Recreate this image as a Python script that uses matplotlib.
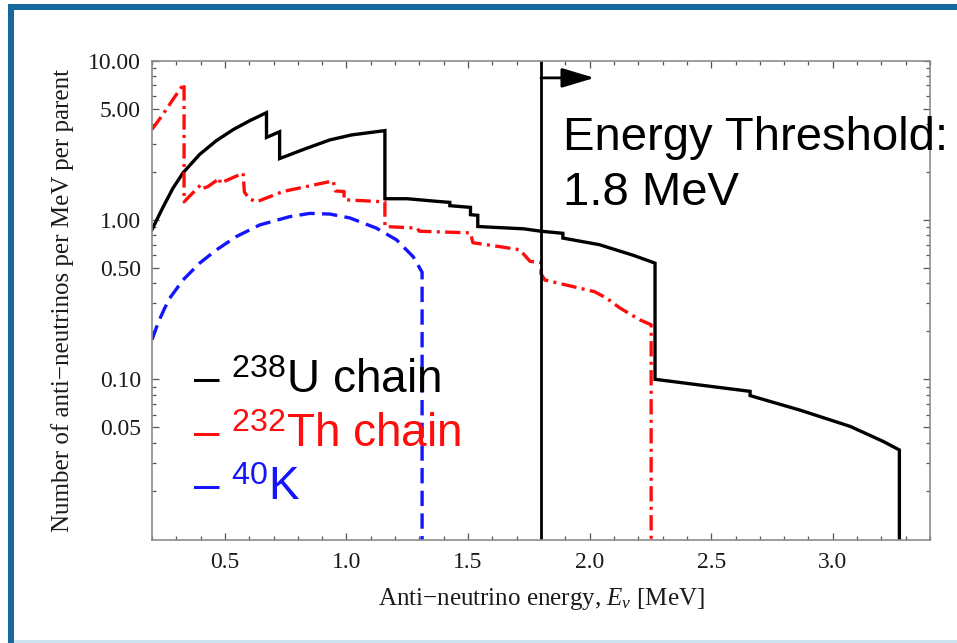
import matplotlib
matplotlib.use("Agg")
import matplotlib.pyplot as plt
from matplotlib.patches import Rectangle
from matplotlib.ticker import FixedLocator, FixedFormatter, MultipleLocator, LogLocator, NullFormatter
import numpy as np

plt.rcParams['font.family'] = ['Liberation Serif', 'DejaVu Serif']
plt.rcParams['mathtext.fontset'] = 'custom'
plt.rcParams['mathtext.rm'] = 'Liberation Sans'
plt.rcParams['mathtext.it'] = 'Liberation Serif:italic'

# geo-neutrino spectra, read per chain (energy in MeV, number per MeV per parent)
u_energy = [0.2, 0.245, 0.286, 0.328, 0.396, 0.465, 0.535, 0.602, 0.671, 0.671,
            0.725, 0.725, 0.828, 0.931, 1.021, 1.158, 1.158, 1.25, 1.37, 1.425,
            1.425, 1.51, 1.51, 1.54, 1.54, 1.73, 1.80, 1.89, 1.89, 2.04,
            2.18, 2.269, 2.269, 2.455, 2.66, 2.66, 2.866, 3.072, 3.208, 3.274, 3.274]
u_count = [0.87, 1.20, 1.58, 1.98, 2.58, 3.15, 3.70, 4.20, 4.72, 3.30,
           3.58, 2.43, 2.79, 3.18, 3.42, 3.64, 1.36, 1.36, 1.31, 1.29,
           1.23, 1.20, 1.08, 1.07, 0.91, 0.88, 0.85, 0.825, 0.77, 0.70,
           0.60, 0.536, 0.100, 0.092, 0.084, 0.079, 0.064, 0.0506, 0.0407, 0.036, 0.005]

th_energy = [0.2, 0.245, 0.286, 0.332, 0.332, 0.40, 0.41, 0.43, 0.479, 0.48,
             0.575, 0.58, 0.60, 0.63, 0.739, 0.945, 0.955, 0.99, 0.99, 1.158,
             1.158, 1.29, 1.30, 1.51, 1.52, 1.631, 1.713, 1.755, 1.80, 1.80,
             1.816, 2.02, 2.07, 2.125, 2.207, 2.253, 2.253]
th_count = [3.7, 4.6, 5.7, 7.2, 1.30, 1.66, 1.58, 1.62, 1.83, 1.70,
            1.97, 1.50, 1.36, 1.30, 1.51, 1.76, 1.52, 1.51, 1.34, 1.30,
            0.91, 0.89, 0.85, 0.83, 0.72, 0.68, 0.65, 0.55, 0.54, 0.46,
            0.42, 0.355, 0.323, 0.28, 0.236, 0.22, 0.005]

k_energy = [0.2, 0.225, 0.25, 0.273, 0.328, 0.396, 0.465, 0.547, 0.643, 0.767,
            0.849, 0.931, 1.014, 1.123, 1.206, 1.274, 1.311, 1.311]
k_count = [0.177, 0.226, 0.275, 0.323, 0.421, 0.536, 0.649, 0.787, 0.931, 1.05,
           1.10, 1.09, 1.03, 0.889, 0.75, 0.589, 0.47, 0.005]

threshold = 1.8
x_ticks = [0.5, 1.0, 1.5, 2.0, 2.5, 3.0]
x_tick_labels = ['0.5', '1.0', '1.5', '2.0', '2.5', '3.0']
y_ticks = [0.05, 0.1, 0.5, 1.0, 5.0, 10.0]
y_tick_labels = ['0.05', '0.10', '0.50', '1.00', '5.00', '10.00']

fig = plt.figure(figsize=(9.57, 6.43), dpi=100)
ax = fig.add_axes([0.1588, 0.1602, 0.8130, 0.7454])

lw = 2.4
ax.plot(u_energy, u_count, color='black', lw=lw, solid_joinstyle='miter')
ax.plot(th_energy, th_count, color='#ff0d0d', lw=lw, linestyle=(0, (4.6, 1.6, 0.9, 1.6)))
ax.plot(k_energy, k_count, color='#1414ff', lw=lw, linestyle=(0, (4.6, 2.2)))

ax.axvline(threshold, color='black', lw=2)
ax.annotate('', xy=(2.02, 7.8), xytext=(threshold, 7.8),
            arrowprops=dict(arrowstyle='-|>,head_length=1.0,head_width=0.3',
                            mutation_scale=20, lw=2, color='black',
                            shrinkA=0, shrinkB=0))

ax.set_yscale('log')
ax.set_xlim(0.2, 3.4)
ax.set_ylim(0.0098, 10)

ax.xaxis.set_major_locator(FixedLocator(x_ticks))
ax.xaxis.set_major_formatter(FixedFormatter(x_tick_labels))
ax.xaxis.set_minor_locator(MultipleLocator(0.1))
ax.yaxis.set_major_locator(FixedLocator(y_ticks))
ax.yaxis.set_major_formatter(FixedFormatter(y_tick_labels))
ax.yaxis.set_minor_locator(LogLocator(base=10, subs=np.arange(2, 10), numticks=30))
ax.yaxis.set_minor_formatter(NullFormatter())

ax.tick_params(which='both', direction='in', top=True, right=True,
               color='#555555', width=0.9, labelsize=17, labelcolor='#1a1a1a')
ax.tick_params(which='major', length=5)
ax.tick_params(which='minor', length=3)
ax.tick_params(axis='x', pad=9)
ax.tick_params(axis='y', pad=8)
for sp in ax.spines.values():
    sp.set_color('#8c8c8c')
    sp.set_linewidth(1.2)

ax.set_xlabel('Anti\u2212neutrino energy, $E_\\nu$ [MeV]', fontsize=18, color='#1a1a1a')
ax.set_ylabel('Number of anti\u2212neutrinos per MeV per parent', fontsize=18, color='#1a1a1a')
ax.xaxis.set_label_coords(0.5, -0.095)
ax.yaxis.set_label_coords(-0.1, 0.5)

# threshold note and legend, drawn in sans over the frame
sans = ['Liberation Sans', 'DejaVu Sans']
fig.text(563 / 957, 1 - 150 / 643, 'Energy Threshold:', fontsize=34, family=sans, va='baseline')
fig.text(563 / 957, 1 - 205 / 643, '1.8 MeV', fontsize=34, family=sans, va='baseline')

legend_rows = [('\u2013 $^{238}$U chain', 'black', 393),
               ('\u2013 $^{232}$Th chain', '#ff0d0d', 447),
               ('\u2013 $^{40}$K', '#1414ff', 500)]
for label, col, base in legend_rows:
    fig.text(193 / 957, 1 - base / 643, label, fontsize=33, family=sans,
             color=col, va='baseline')

# slide frame
frame = '#17689c'
fig.add_artist(Rectangle((8 / 957, 0), 6 / 957, 1 - 4 / 643, transform=fig.transFigure,
                         color=frame, lw=0))
fig.add_artist(Rectangle((8 / 957, 1 - 10 / 643), 1, 6 / 643, transform=fig.transFigure,
                         color=frame, lw=0))
fig.add_artist(Rectangle((14 / 957, 0), 1, 3 / 643, transform=fig.transFigure,
                         color='#cfe2ef', lw=0))

fig.savefig('out.png', dpi=100)
